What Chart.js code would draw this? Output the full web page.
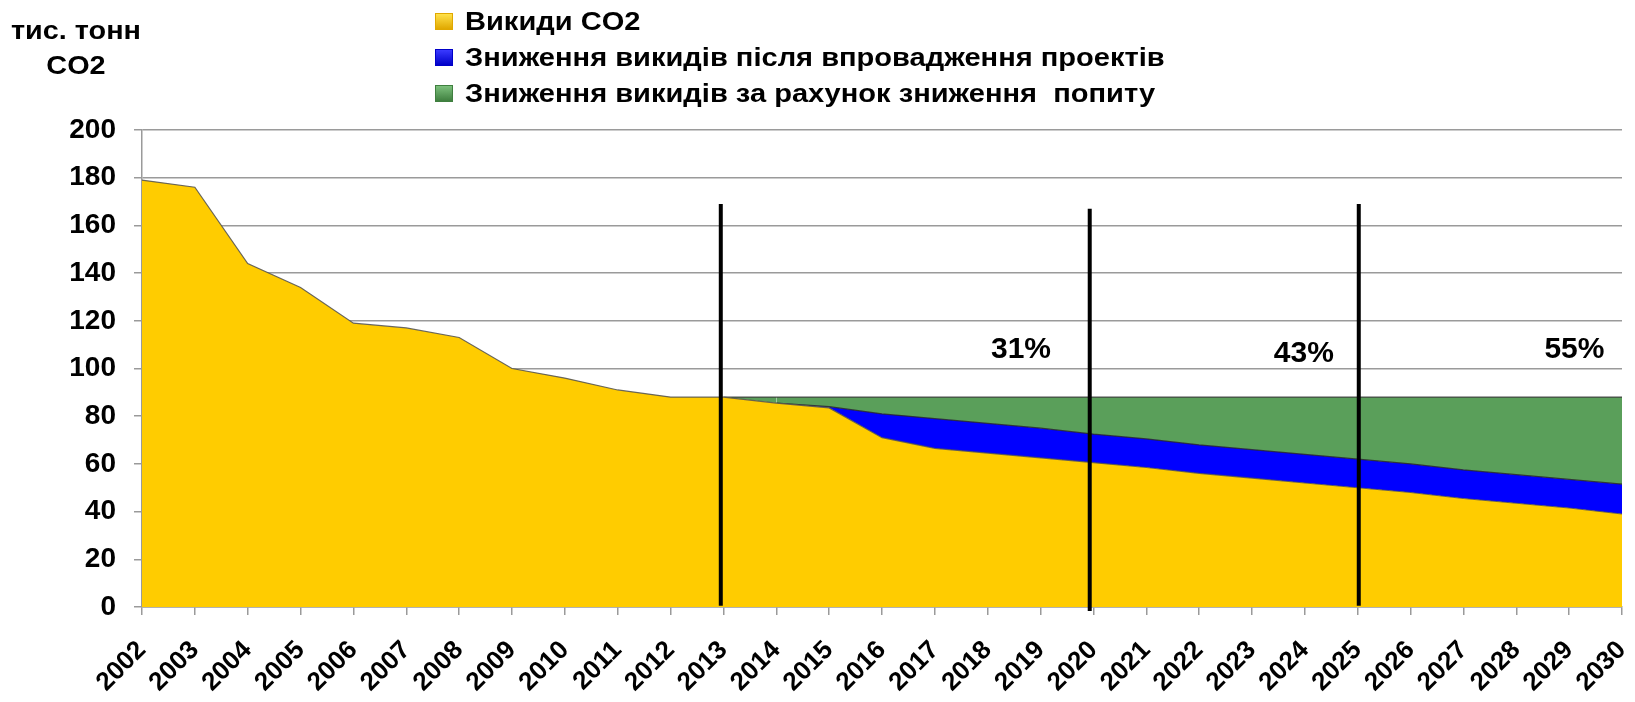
<!DOCTYPE html>
<html><head><meta charset="utf-8">
<script src="https://cdn.jsdelivr.net/npm/chart.js@4.4.1/dist/chart.umd.min.js"></script>
<style>
html,body{margin:0;padding:0;background:#fff;}
#wrap{position:relative;width:1635px;height:702px;overflow:hidden;}
#c{position:absolute;left:0;top:0;}
.t{position:absolute;font-family:"Liberation Sans",Arial,sans-serif;font-weight:bold;color:#000;white-space:nowrap;line-height:1;transform:scaleX(1.13);transform-origin:center;}
.lg{position:absolute;left:435px;height:36px;display:flex;align-items:center;}
.lg .box{width:18px;height:17px;margin-right:12px;box-sizing:border-box;flex:none;}
.lg span{font-family:"Liberation Sans",Arial,sans-serif;font-weight:bold;font-size:25.5px;color:#000;white-space:pre;display:inline-block;transform:scaleX(1.14);transform-origin:left center;}
</style></head>
<body>
<div id="wrap">
<canvas id="c" width="1635" height="702"></canvas>
<div class="t" id="ytitle1" style="left:0;width:152px;text-align:center;top:18px;font-size:25.5px;"></div>
<div class="t" id="ytitle2" style="left:0;width:152px;text-align:center;top:53px;font-size:25.5px;"></div>
<div id="legend"></div>
</div>
<script>
const years = ['2002','2003','2004','2005','2006','2007','2008','2009','2010','2011','2012','2013','2014','2015','2016','2017','2018','2019','2020','2021','2022','2023','2024','2025','2026','2027','2028','2029','2030'];
const emissions = [179,176,144,134,119,117,113,100,96,91,88,88,85.5,83.5,71,66.5,64.5,62.5,60.5,58.5,56,54,52,50,48,45.5,43.5,41.5,39];
const projectReduction = [0,0,0,0,0,0,0,0,0,0,0,0,0,0.5,10,12.5,12.5,12.5,12,12,12,12,12,12,12,12,12,12,12.5];
const demandReduction = [0,0,0,0,0,0,0,0,0,0,0,0,2.5,4,7,9,11,13,15.5,17.5,20,22,24,26,28,30.5,32.5,34.5,36.5];
const seriesNames = ['Викиди CO2','Зниження викидів після впровадження проектів','Зниження викидів за рахунок зниження  попиту'];
const seriesColors = ['#FFCC00','#0000FF','#5A9F5A'];
const legendBoxColors = [['#FFE14A','#E0A800'],['#3A3AFF','#0000C8'],['#7CC07C','#3F7F3F']];
const yTitle = ['тис. тонн','CO2'];
const markerYears = [2012.95, 2019.93, 2025.02];
const markerTops = [169, 167, 169];
const markerBottoms = [0.5, -1.7, 0.5];
const pctLabels = ['31%','43%','55%'];
const pctYears = [2018.63, 2023.98, 2029.1];
const pctValues = [108, 106, 108];

document.getElementById('ytitle1').textContent = yTitle[0];
document.getElementById('ytitle2').textContent = yTitle[1];
const lg = document.getElementById('legend');
const rowTops = [3, 39, 75];
seriesNames.forEach((n,i)=>{
  const d = document.createElement('div');
  d.className='lg'; d.style.top = rowTops[i]+'px';
  const b = document.createElement('div'); b.className='box';
  b.style.background = 'linear-gradient(180deg,'+legendBoxColors[i][0]+','+legendBoxColors[i][1]+')';
  b.style.border = '1px solid '+legendBoxColors[i][1];
  const s = document.createElement('span'); s.textContent = n;
  d.appendChild(b); d.appendChild(s); lg.appendChild(d);
});

const FONT = '"Liberation Sans", Arial, sans-serif';
const firstYear = parseInt(years[0],10);

const overlay = {
  id:'overlay',
  afterDatasetsDraw(chart){
    const ctx = chart.ctx, x = chart.scales.x, y = chart.scales.y;
    ctx.save();
    ctx.strokeStyle = '#000'; ctx.lineWidth = 4; ctx.lineCap='butt';
    markerYears.forEach((yr,i)=>{
      const px = x.getPixelForValue(yr - firstYear);
      ctx.beginPath();
      ctx.moveTo(px, y.getPixelForValue(markerTops[i]));
      ctx.lineTo(px, y.getPixelForValue(markerBottoms[i]));
      ctx.stroke();
    });
    ctx.fillStyle = '#000';
    ctx.font = 'bold 30px ' + FONT;
    ctx.textAlign = 'center'; ctx.textBaseline = 'middle';
    pctLabels.forEach((t,i)=>{
      ctx.fillText(t, x.getPixelForValue(pctYears[i] - firstYear), y.getPixelForValue(pctValues[i]));
    });
    ctx.restore();
  }
};

const zeroSeg = (arr) => (c) => (arr[c.p0DataIndex] === 0 && arr[c.p1DataIndex] === 0) ? 'rgba(0,0,0,0)' : undefined;

new Chart(document.getElementById('c'), {
  type:'line',
  data:{
    labels: years,
    datasets:[
      {label:seriesNames[0], data:emissions, backgroundColor:seriesColors[0], borderColor:'rgba(80,80,80,0.85)', borderWidth:1.2, fill:'origin', pointRadius:0, tension:0},
      {label:seriesNames[1], data:projectReduction, backgroundColor:seriesColors[1], borderColor:'rgba(40,40,40,0.85)', borderWidth:1.2, fill:'-1', pointRadius:0, tension:0, segment:{borderColor:zeroSeg(projectReduction)}},
      {label:seriesNames[2], data:demandReduction, backgroundColor:seriesColors[2], borderColor:'rgba(60,60,60,0.9)', borderWidth:1.2, fill:'-1', pointRadius:0, tension:0, segment:{borderColor:zeroSeg(demandReduction)}}
    ]
  },
  options:{
    responsive:false, animation:false,
    layout:{padding:{top:130, right:13, left:0, bottom:0}},
    plugins:{legend:{display:false}, tooltip:{enabled:false}},
    scales:{
      x:{
        offset:false,
        grid:{display:true, drawOnChartArea:false, drawTicks:true, tickLength:8, color:'#9a9a9a', lineWidth:1.5},
        border:{color:'#9a9a9a', width:1.5},
        ticks:{autoSkip:false, maxRotation:45, minRotation:45, color:'#000', padding:20, font:{family:FONT, size:26, weight:'bold'}},
        afterFit(s){ s.height = 95; s.paddingRight = 0; s.paddingLeft = 0; }
      },
      y:{
        stacked:true, min:0, max:200,
        ticks:{stepSize:20, color:'#000', padding:18, font:{family:FONT, size:28, weight:'bold'}},
        grid:{color:'#9a9a9a', lineWidth:1.5, tickLength:8},
        border:{color:'#9a9a9a', width:1.5},
        afterFit(s){ s.width = 142; }
      }
    }
  },
  plugins:[overlay]
});
</script>
</body></html>
